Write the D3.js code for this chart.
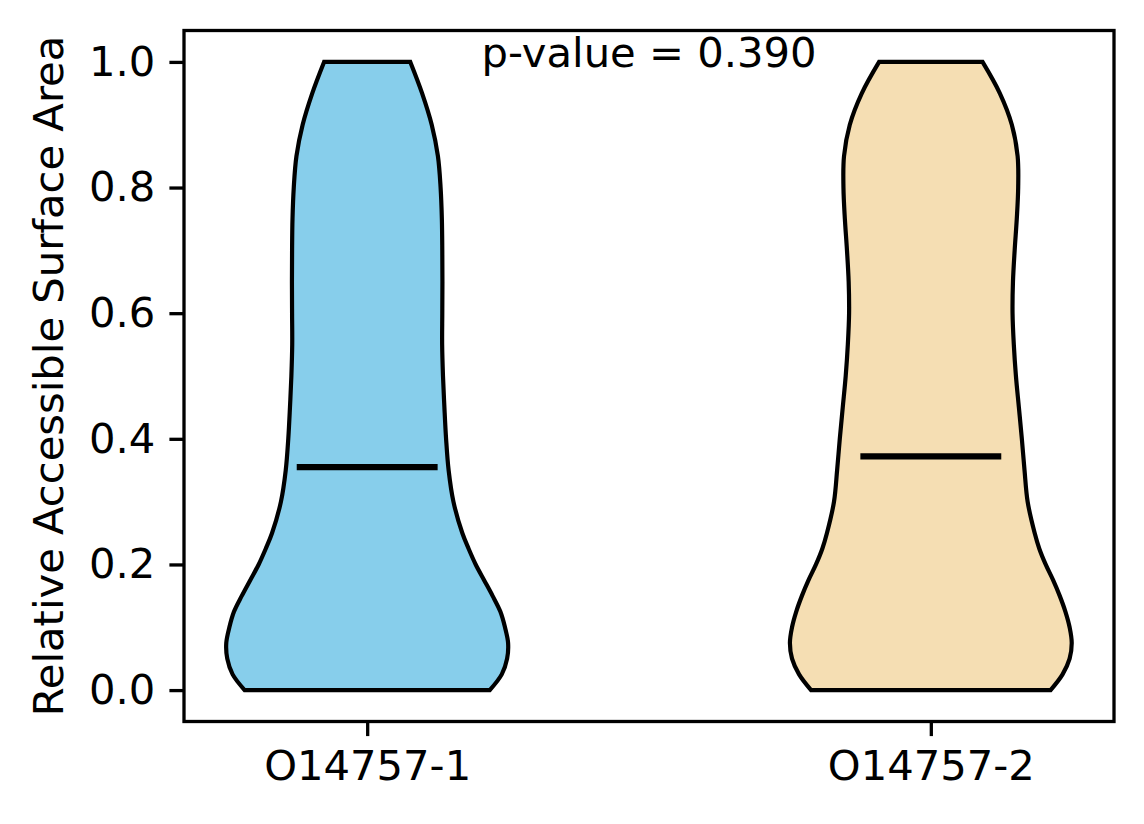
<!DOCTYPE html>
<html>
<head>
<meta charset="utf-8">
<script src="https://cdn.jsdelivr.net/npm/d3@7"></script>
<style>
  html, body { margin: 0; padding: 0; background: #fff; }
  svg { display: block; }
  text { font-family: "DejaVu Sans", sans-serif; fill: #000; }
</style>
</head>
<body>
<svg id="chart" width="1144" height="824"></svg>
<script>
// ---- data ----
const categories = ["O14757-1", "O14757-2"];
const colors = ["#87CEEB", "#F5DEB3"];
const medians = [0.355, 0.372];
const pValueText = "p-value = 0.390";
const yLabel = "Relative Accessible Surface Area";
const yTicks = [0.0, 0.2, 0.4, 0.6, 0.8, 1.0];

// density grid (value) and normalised half-widths per violin
const gridValues = [0.000, 0.025, 0.050, 0.075, 0.100, 0.125, 0.150, 0.175, 0.200, 0.225,
                    0.250, 0.300, 0.350, 0.400, 0.450, 0.500, 0.550, 0.600, 0.650, 0.700,
                    0.750, 0.800, 0.850, 0.900, 0.950, 1.000];
const density1 = [0.87, 0.955, 0.993, 1.0, 0.978, 0.945, 0.89, 0.83, 0.77, 0.72,
                  0.675, 0.612, 0.578, 0.56, 0.548, 0.538, 0.532, 0.533, 0.534, 0.533,
                  0.530, 0.521, 0.502, 0.458, 0.39, 0.306];
const density2 = [0.85, 0.935, 0.985, 1.0, 0.985, 0.955, 0.915, 0.868, 0.815, 0.77,
                  0.737, 0.687, 0.665, 0.646, 0.625, 0.604, 0.589, 0.58, 0.583, 0.595,
                  0.61, 0.62, 0.616, 0.575, 0.49, 0.367];
const densities = [density1, density2];

// ---- layout ----
const W = 1144, H = 824;
const m = { left: 184, right: 30, top: 30.5, bottom: 102.5 };
const svg = d3.select("#chart");
const fontSize = 41.7;
const violinWidth = 0.5;

const x = d3.scaleLinear().domain([0.675, 2.325]).range([m.left, W - m.right]);
const y = d3.scaleLinear().domain([-0.05, 1.05]).range([H - m.bottom, m.top]);

// violins
categories.forEach((c, i) => {
  const pos = i + 1;
  const pts = gridValues.map((v, k) => ({ v, w: densities[i][k] }));
  const half = violinWidth / 2;
  const area = d3.area()
    .curve(d3.curveCatmullRom)
    .y(d => y(d.v))
    .x0(d => x(pos - half * d.w))
    .x1(d => x(pos + half * d.w));
  svg.append("path")
    .attr("d", area(pts))
    .attr("fill", colors[i])
    .attr("stroke", "#000")
    .attr("stroke-width", 4.2)
    .attr("stroke-linejoin", "miter");
  // median line
  svg.append("line")
    .attr("x1", x(pos - violinWidth / 4))
    .attr("x2", x(pos + violinWidth / 4))
    .attr("y1", y(medians[i]))
    .attr("y2", y(medians[i]))
    .attr("stroke", "#000")
    .attr("stroke-width", 6.2);
});

// axes
const yAxis = d3.axisLeft(y).tickValues(yTicks).tickFormat(d3.format(".1f"))
  .tickSize(14.6).tickPadding(14);
const gy = svg.append("g").attr("transform", `translate(${m.left},0)`).call(yAxis);
const xAxis = d3.axisBottom(x).tickValues([1, 2]).tickFormat((d, i) => categories[i])
  .tickSize(14.6).tickPadding(14);
const gx = svg.append("g").attr("transform", `translate(0,${H - m.bottom})`).call(xAxis);
[gx, gy].forEach(g => {
  g.select(".domain").remove();
  g.selectAll(".tick line").attr("stroke", "#000").attr("stroke-width", 3.3);
  g.selectAll(".tick text").attr("font-size", fontSize)
    .attr("font-family", '"DejaVu Sans", sans-serif').attr("fill", "#000");
});

// frame
svg.append("rect")
  .attr("x", m.left).attr("y", m.top)
  .attr("width", W - m.left - m.right).attr("height", H - m.top - m.bottom)
  .attr("fill", "none").attr("stroke", "#000").attr("stroke-width", 3.3);

// p-value text
svg.append("text")
  .attr("x", x(1.5)).attr("y", 67)
  .attr("text-anchor", "middle")
  .attr("font-size", fontSize)
  .text(pValueText);

// y label
svg.append("text")
  .attr("transform", `translate(63,${(m.top + H - m.bottom) / 2}) rotate(-90)`)
  .attr("text-anchor", "middle")
  .attr("font-size", fontSize)
  .text(yLabel);
</script>
</body>
</html>
